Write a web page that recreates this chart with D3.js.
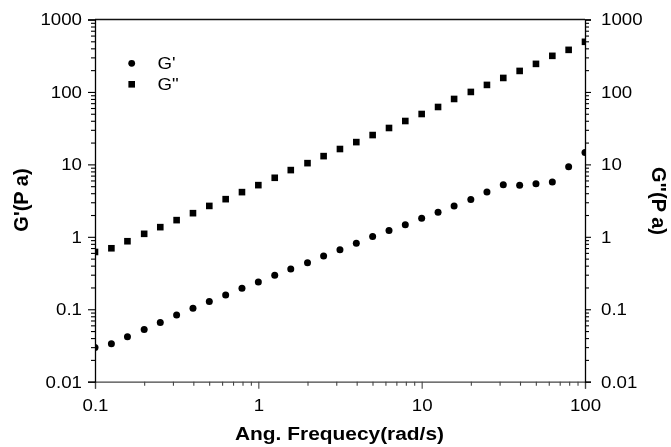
<!DOCTYPE html>
<html><head><meta charset="utf-8">
<script src="https://cdn.jsdelivr.net/npm/d3@7"></script>
<style>body{margin:0;background:#fff}svg{display:block;will-change:transform}text{font-family:"Liberation Sans",Arial,sans-serif;fill:#000;-webkit-font-smoothing:antialiased}</style>
</head><body>
<svg id="c" width="671" height="447"></svg>
<script>
const freq = [0.1,0.126,0.158,0.2,0.251,0.316,0.398,0.501,0.631,0.794,1,1.26,1.58,2,2.51,3.16,3.98,5.01,6.31,7.94,10,12.6,15.8,20,25.1,31.6,39.8,50.1,63.1,79.4,100];
const gPrime = [0.0297,0.0333,0.0417,0.0527,0.0659,0.0832,0.103,0.128,0.157,0.195,0.238,0.294,0.360,0.440,0.544,0.665,0.815,1.007,1.22,1.47,1.81,2.19,2.67,3.27,4.14,5.22,5.17,5.39,5.69,9.27,14.6];
const gDouble = [0.618,0.695,0.869,1.10,1.36,1.70,2.12,2.67,3.31,4.14,5.17,6.53,8.34,10.4,13.0,16.3,20.3,25.4,31.8,39.7,49.6,62.0,80.0,100,125,156,195,244,315,381,492];
const xTicks = [0.1,1,10,100];
const xTickLabels = ["0.1","1","10","100"];
const yTicks = [0.01,0.1,1,10,100,1000];
const yTickLabels = ["0.01","0.1","1","10","100","1000"];
const seriesNames = ["G'","G\""];
const xTitle = "Ang. Frequecy(rad/s)";
const yLeftTitle = "G'(P a)";
const yRightTitle = "G\"(P a)";

const L=95,R=585,T=19.5,B=381.7;
const svg=d3.select("#c");
const x=d3.scaleLog().domain([0.1,100]).range([L,R]);
const y=d3.scaleLog().domain([0.01,1000]).range([B,T]);
function minors(lo,hi){const m=[];for(let e=Math.log10(lo);e<Math.log10(hi);e++){for(let k=2;k<=9;k++)m.push(k*Math.pow(10,e));}return m;}
const xMin=minors(0.1,100), yMin=minors(0.01,1000);
const SX=1.1;

function styleAxis(g,color){g.select(".domain").attr("stroke",color).attr("stroke-width",1.3);g.selectAll("line").attr("stroke",color).attr("stroke-width",1.1);}

// top border
svg.append("line").attr("x1",L).attr("x2",R).attr("y1",T).attr("y2",T).attr("stroke","#111").attr("stroke-width",1.3);

// bottom axis
const bx=svg.append("g").attr("transform",`translate(0,${B})`)
  .call(d3.axisBottom(x).tickValues(xTicks).tickSize(7).tickFormat((d,i)=>xTickLabels[i]));
bx.append("g").call(d3.axisBottom(x).tickValues(xMin).tickSize(4).tickFormat("")).select(".domain").remove();
styleAxis(bx,"#444");
bx.selectAll("text").attr("font-size",17).attr("fill","#000")
  .attr("y",null).attr("dy",null)
  .attr("transform","translate(0,29) scale("+SX+",1)");

// left axis
const ly=svg.append("g").attr("transform",`translate(${L},0)`)
  .call(d3.axisLeft(y).tickValues(yTicks).tickSize(7).tickFormat((d,i)=>yTickLabels[i]));
ly.append("g").call(d3.axisLeft(y).tickValues(yMin).tickSize(4).tickFormat("")).select(".domain").remove();
styleAxis(ly,"#000");
ly.selectAll("text").attr("font-size",17).attr("fill","#000")
  .attr("x",null).attr("transform","translate(-13,0) scale("+SX+",1)");

// right axis
const ry=svg.append("g").attr("transform",`translate(${R},0)`)
  .call(d3.axisRight(y).tickValues(yTicks).tickSize(6).tickFormat((d,i)=>yTickLabels[i]));
ry.append("g").call(d3.axisRight(y).tickValues(yMin).tickSize(4).tickFormat("")).select(".domain").remove();
styleAxis(ry,"#000");
ry.selectAll("text").attr("font-size",17).attr("fill","#000")
  .attr("x",null).attr("transform","translate(16,0) scale("+SX+",1)");

// clip
svg.append("clipPath").attr("id","clip").append("rect").attr("x",L).attr("y",T).attr("width",R-L).attr("height",B-T);
const plot=svg.append("g").attr("clip-path","url(#clip)");
const sq=6.6;
plot.selectAll("rect.gd").data(freq).join("rect").attr("class","gd")
  .attr("x",(d)=>x(d)-sq/2).attr("y",(d,i)=>y(gDouble[i])-sq/2).attr("width",sq).attr("height",sq).attr("fill","#000");
plot.selectAll("circle.gp").data(freq).join("circle").attr("class","gp")
  .attr("cx",(d)=>x(d)).attr("cy",(d,i)=>y(gPrime[i])).attr("r",3.5).attr("fill","#000");

// legend
const lg=svg.append("g");
lg.append("circle").attr("cx",131.7).attr("cy",63.3).attr("r",3.4).attr("fill","#000");
lg.append("rect").attr("x",131.7-3.3).attr("y",84.3-3.3).attr("width",6.6).attr("height",6.6).attr("fill","#000");
lg.append("text").attr("transform","translate(157.5,69) scale("+SX+",1)").attr("font-size",17).text(seriesNames[0]);
lg.append("text").attr("transform","translate(157.5,90) scale("+SX+",1)").attr("font-size",17).text(seriesNames[1]);

// titles
svg.append("text").attr("transform","translate(339.5,440) scale("+SX+",1)").attr("text-anchor","middle")
  .attr("font-size",19).attr("font-weight","bold").text(xTitle);
svg.append("text").attr("transform","translate(27.5,200) rotate(-90)").attr("text-anchor","middle")
  .attr("font-size",20).attr("font-weight","bold").text(yLeftTitle);
svg.append("text").attr("transform","translate(651.5,201) rotate(90)").attr("text-anchor","middle")
  .attr("font-size",20).attr("font-weight","bold").text(yRightTitle);
</script>
</body></html>
